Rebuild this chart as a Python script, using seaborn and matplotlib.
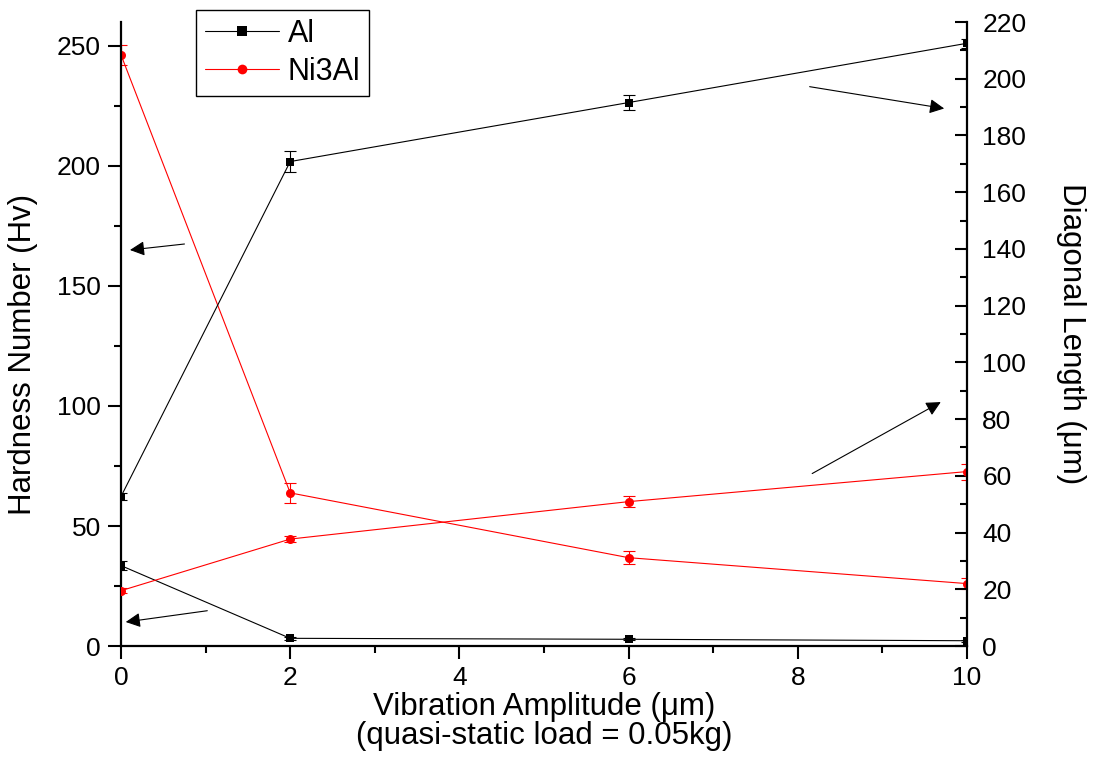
import matplotlib
matplotlib.use("Agg")
import matplotlib.pyplot as plt
import seaborn as sns
import pandas as pd
import numpy as np

# ---- data ----
amplitude = [0, 2, 6, 10]

al_hardness = [33.5, 3.2, 2.8, 2.2]
al_hardness_err = [2.0, 0.6, 0.5, 0.5]
ni3al_hardness = [246.3, 63.8, 36.8, 26.0]
ni3al_hardness_err = [4.2, 4.3, 2.6, 2.4]

al_diagonal = [52.7, 170.8, 191.6, 212.5]
al_diagonal_err = [1.2, 3.6, 2.8, 1.5]
ni3al_diagonal = [19.5, 37.7, 50.9, 61.5]
ni3al_diagonal_err = [0.8, 1.2, 2.0, 2.8]

series_names = ["Al", "Ni3Al"]
x_ticks = [0, 2, 4, 6, 8, 10]
left_ticks = [0, 50, 100, 150, 200, 250]
right_ticks = list(range(0, 221, 20))

sns.set_theme(style="ticks")
plt.rcParams["font.family"] = ["Liberation Sans", "DejaVu Sans"]
plt.rcParams["axes.edgecolor"] = "black"
plt.rcParams["axes.labelcolor"] = "black"
plt.rcParams["text.color"] = "black"
plt.rcParams["xtick.color"] = "black"
plt.rcParams["ytick.color"] = "black"
plt.rcParams["xtick.labelcolor"] = "black"
plt.rcParams["ytick.labelcolor"] = "black"

fig = plt.figure(figsize=(11.06, 7.62), dpi=100)
ax = fig.add_axes([121 / 1106, 1 - 646 / 762, (967 - 121) / 1106, (646 - 22) / 762])
ax2 = ax.twinx()

lw = 0.8
styles = {
    "Al": dict(color="black", marker="s", ms=5.5),
    "Ni3Al": dict(color="#ff0000", marker="o", ms=6.5),
}

def draw(axis, y, yerr, name, label):
    st = styles[name]
    df = pd.DataFrame({"x": amplitude, "y": y})
    sns.lineplot(data=df, x="x", y="y", ax=axis, color=st["color"], lw=lw,
                 marker=st["marker"], markersize=st["ms"], markeredgewidth=0,
                 label=label, legend=False)
    axis.errorbar(amplitude, y, yerr=yerr, fmt="none", ecolor=st["color"],
                  elinewidth=0.8, capsize=4.5, capthick=0.8)

draw(ax, al_hardness, al_hardness_err, "Al", "Al")
draw(ax, ni3al_hardness, ni3al_hardness_err, "Ni3Al", "Ni3Al")
draw(ax2, al_diagonal, al_diagonal_err, "Al", None)
draw(ax2, ni3al_diagonal, ni3al_diagonal_err, "Ni3Al", None)

# axes ranges and ticks
ax.set_xlim(0, 10)
ax.set_ylim(0, 260)
ax2.set_ylim(0, 220)
ax.set_xticks(x_ticks)
ax.set_xticks(np.arange(1, 10, 2), minor=True)
ax.set_yticks(left_ticks)
ax.set_yticks(np.arange(25, 260, 50), minor=True)
ax2.set_yticks(right_ticks)
ax2.set_yticks(np.arange(10, 220, 20), minor=True)
ax.set_xticklabels([str(v) for v in x_ticks])
ax.set_yticklabels([str(v) for v in left_ticks])
ax2.set_yticklabels([str(v) for v in right_ticks])

for a in (ax, ax2):
    a.spines["top"].set_visible(False)
    for s in ("left", "right", "bottom"):
        a.spines[s].set_linewidth(1.6)
ax.spines["right"].set_visible(False)
ax2.spines["left"].set_visible(False)
ax2.spines["bottom"].set_visible(False)

ax.tick_params(axis="both", which="major", direction="out", length=9.5, width=1.5,
               labelsize=19, pad=5)
ax.tick_params(axis="both", which="minor", direction="out", length=5, width=1.5)
ax.tick_params(axis="x", which="major", pad=5)
ax2.tick_params(axis="y", which="major", direction="in", length=9, width=1.5,
                labelsize=19, pad=11)
ax2.tick_params(axis="y", which="minor", direction="in", length=5, width=1.5)

ax.set_xlabel("Vibration Amplitude (\u03bcm)\n(quasi-static load = 0.05kg)",
              fontsize=22.5, linespacing=0.95)
ax.xaxis.set_label_coords(0.5, -0.074)
ax.xaxis.label.set_va("top")

ax.set_ylabel("Hardness Number (Hv)", fontsize=22.5)
ax.yaxis.set_label_coords(-0.098, 0.467)

ax2.set_ylabel("Diagonal Length (\u03bcm)", fontsize=22.5, rotation=270, va="bottom")
ax2.yaxis.set_label_coords(1.105, 0.5)

# arrows indicating which axis each pair of curves belongs to
arrow_kw = dict(arrowstyle="-|>", color="black", lw=0.8, mutation_scale=22,
                shrinkA=0, shrinkB=0)
ax.annotate("", xy=(0.106, 165.0), xytext=(0.75, 167.5), arrowprops=arrow_kw)
ax.annotate("", xy=(0.056, 10.0), xytext=(1.02, 14.7), arrowprops=arrow_kw)
ax2.annotate("", xy=(9.73, 189.5), xytext=(8.14, 197.2), arrowprops=arrow_kw)
ax2.annotate("", xy=(9.69, 86.0), xytext=(8.17, 60.8), arrowprops=arrow_kw)

# legend
handles, labels = ax.get_legend_handles_labels()
for h in handles[:2]:
    h.set_markersize(7)
leg = ax.legend(handles[:2], series_names, loc="upper left",
                bbox_to_anchor=(196 / 1106, 1 - 10 / 762),
                bbox_transform=fig.transFigure, borderaxespad=0,
                fontsize=22, frameon=True, fancybox=False, framealpha=1,
                edgecolor="black", handlelength=2.4, handletextpad=0.3,
                labelspacing=0.25, borderpad=0.3)
leg.get_frame().set_linewidth(1.0)
for h in handles[:2]:
    h.set_markersize(styles["Al"]["ms"] if h.get_marker() == "s" else styles["Ni3Al"]["ms"])

fig.savefig("out.png", dpi=100)
